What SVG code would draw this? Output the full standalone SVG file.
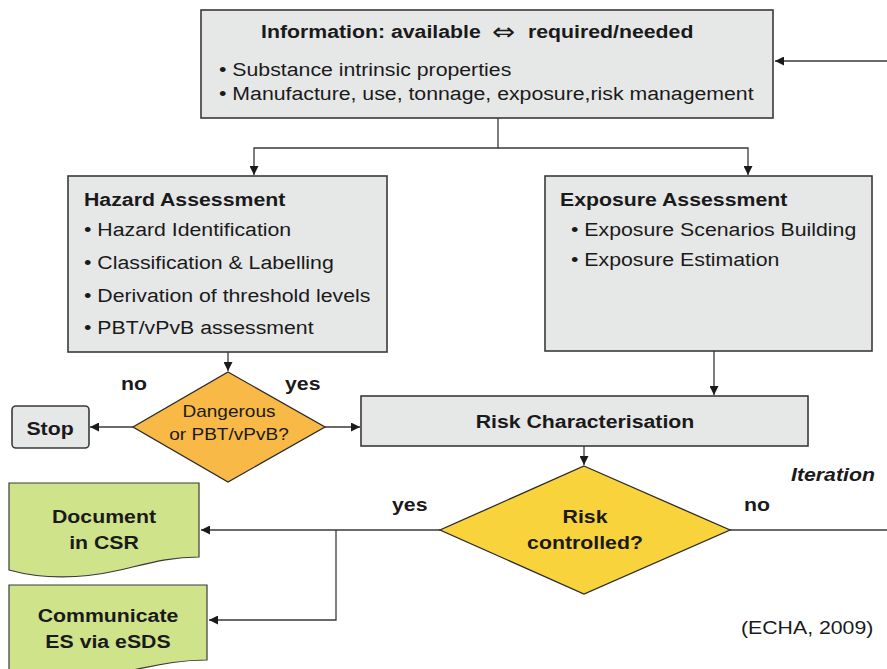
<svg xmlns="http://www.w3.org/2000/svg" width="887" height="669" viewBox="0 0 887 669">
  <defs>
    <marker id="arr" viewBox="0 0 10 10" refX="10" refY="5" markerWidth="9" markerHeight="9" markerUnits="userSpaceOnUse" orient="auto">
      <path d="M0,0 L10,5 L0,10 Z" fill="#1a1a1a"/>
    </marker>
    <style>
      .box { fill: #e6e7e7; stroke: #3a3a3a; stroke-width: 1.6; }
      .doc { fill: #cfe38b; stroke: #3a3a3a; stroke-width: 1.2; }
      .dia1 { fill: #f8b946; stroke: #2a2a2a; stroke-width: 1.3; }
      .dia2 { fill: #f9d33c; stroke: #2a2a2a; stroke-width: 1.3; }
      .line { fill: none; stroke: #3a3a3a; stroke-width: 1.3; }
      text { font-family: "Liberation Sans", Arial, sans-serif; fill: #1a1a1a; font-size: 19px; }
      .b { font-weight: bold; }
      .c { text-anchor: middle; }
      .s17 { font-size: 17px; }
      .sym { font-family: "DejaVu Sans", sans-serif; font-size: 24px; font-weight: normal; }
    </style>
  </defs>

  <!-- connectors -->
  <g id="connectors">
    <line class="line" x1="887" y1="61" x2="775" y2="61" marker-end="url(#arr)"/>
    <polyline class="line" points="498,118 498,148 254,148 254,175" marker-end="url(#arr)"/>
    <polyline class="line" points="498,148 748,148 748,175" marker-end="url(#arr)"/>
    <line class="line" x1="228" y1="352" x2="228" y2="371" marker-end="url(#arr)"/>
    <line class="line" x1="714" y1="351" x2="714" y2="395" marker-end="url(#arr)"/>
    <line class="line" x1="133" y1="427" x2="90" y2="427" marker-end="url(#arr)"/>
    <line class="line" x1="325" y1="427" x2="360" y2="427" marker-end="url(#arr)"/>
    <line class="line" x1="584" y1="446" x2="584" y2="465" marker-end="url(#arr)"/>
    <line class="line" x1="440" y1="530" x2="201" y2="530" marker-end="url(#arr)"/>
    <polyline class="line" points="336,530 336,620 209,620" marker-end="url(#arr)"/>
    <line class="line" x1="730" y1="530" x2="887" y2="530"/>
  </g>

  <!-- information -->
  <g id="information">
    <rect class="box" x="201" y="10" width="572" height="108"/>
    <text class="b" transform="translate(261 38) scale(1.12 1)">Information: available</text>
    <text class="sym" transform="translate(492 40) scale(1.15 1)">⇔</text>
    <text class="b" transform="translate(528 38) scale(1.12 1)">required/needed</text>
    <text transform="translate(219 76) scale(1.12 1)">• Substance intrinsic properties</text>
    <text transform="translate(219 100) scale(1.12 1)">• Manufacture, use, tonnage, exposure,risk management</text>
  </g>

  <!-- hazard assessment -->
  <g id="hazard">
    <rect class="box" x="68" y="176" width="319" height="176"/>
    <text class="b" transform="translate(84 206) scale(1.12 1)">Hazard Assessment</text>
    <text transform="translate(84 236) scale(1.12 1)">• Hazard Identification</text>
    <text transform="translate(84 269) scale(1.12 1)">• Classification &amp; Labelling</text>
    <text transform="translate(84 302) scale(1.12 1)">• Derivation of threshold levels</text>
    <text transform="translate(84 334) scale(1.12 1)">• PBT/vPvB assessment</text>
  </g>

  <!-- exposure assessment -->
  <g id="exposure">
    <rect class="box" x="545" y="176" width="327" height="175"/>
    <text class="b" transform="translate(560 206) scale(1.12 1)">Exposure Assessment</text>
    <text transform="translate(571 236) scale(1.12 1)">• Exposure Scenarios Building</text>
    <text transform="translate(571 266) scale(1.12 1)">• Exposure Estimation</text>
  </g>

  <!-- dangerous decision -->
  <g id="dangerous">
    <polygon class="dia1" points="228,372 325,427 228,482 133,427"/>
    <text class="c s17" transform="translate(229 417) scale(1.12 1)">Dangerous</text>
    <text class="c s17" transform="translate(229 440) scale(1.12 1)">or PBT/vPvB?</text>
  </g>
  <text class="b" transform="translate(121 390) scale(1.12 1)">no</text>
  <text class="b" transform="translate(285 390) scale(1.12 1)">yes</text>

  <!-- stop -->
  <g id="stop">
    <rect class="box" x="12" y="406" width="77" height="42" rx="4"/>
    <text class="b c" transform="translate(50 435) scale(1.12 1)">Stop</text>
  </g>

  <!-- risk characterisation -->
  <g id="risk-char">
    <rect class="box" x="361" y="396" width="447" height="50"/>
    <text class="b c" transform="translate(585 428) scale(1.12 1)">Risk Characterisation</text>
  </g>

  <!-- risk controlled decision -->
  <g id="risk-controlled">
    <polygon class="dia2" points="584,466 730,530 584,594 440,530"/>
    <text class="b c" transform="translate(585 523) scale(1.12 1)">Risk</text>
    <text class="b c" transform="translate(585 549) scale(1.12 1)">controlled?</text>
  </g>
  <text class="b" transform="translate(392 511) scale(1.12 1)">yes</text>
  <text class="b" transform="translate(744 511) scale(1.12 1)">no</text>
  <text class="b" font-style="italic" transform="translate(791 481) scale(1.12 1)">Iteration</text>

  <!-- document in CSR -->
  <g id="document">
    <path class="doc" d="M9,483 H199 V557 C170,557 150,563 120,570 C85,578 45,580 9,570 Z"/>
    <text class="b c" transform="translate(104 523) scale(1.12 1)">Document</text>
    <text class="b c" transform="translate(104 549) scale(1.12 1)">in CSR</text>
  </g>

  <!-- communicate ES -->
  <g id="communicate">
    <path class="doc" d="M9,585 H207 V660 C178,660 158,665 128,671 C90,678 45,680 9,672 Z"/>
    <text class="b c" transform="translate(108 622) scale(1.12 1)">Communicate</text>
    <text class="b c" transform="translate(108 648) scale(1.12 1)">ES via eSDS</text>
  </g>

  <text transform="translate(741 634) scale(1.12 1)">(ECHA, 2009)</text>
</svg>
